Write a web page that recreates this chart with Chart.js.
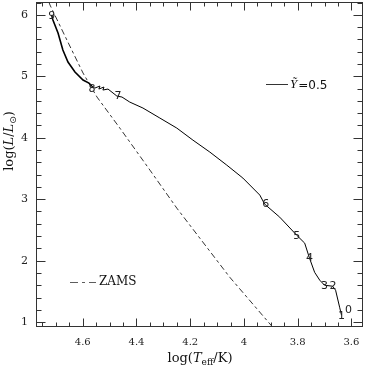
<!DOCTYPE html>
<html><head><meta charset="utf-8">
<script src="https://cdn.jsdelivr.net/npm/chart.js@4/dist/chart.umd.min.js"></script>
<style>html,body{margin:0;padding:0;background:#fff}canvas{display:block}</style>
</head><body>
<canvas id="c" width="367" height="367"></canvas>
<script>
// ---- data ----
const trackLogT = [4.716,4.711,4.692,4.674,4.655,4.629,4.599,4.577,4.566,4.555,4.536,4.540,4.521,4.525,4.506,4.473,4.454,4.425,4.376,4.313,4.250,4.190,4.127,4.064,4.004,3.941,3.923,3.867,3.804,3.774,3.756,3.737,3.718,3.700,3.670,3.659,3.644,3.637];
const trackLogL = [6.000,5.917,5.705,5.428,5.233,5.070,4.940,4.891,4.840,4.809,4.842,4.793,4.826,4.777,4.793,4.679,4.663,4.581,4.484,4.321,4.158,3.962,3.767,3.555,3.344,3.067,2.920,2.708,2.415,2.285,2.040,1.810,1.682,1.600,1.584,1.519,1.242,1.112];
const stageNames = ['0','1','2','3','4','5','6','7','8','9'];
const stageLogT  = [3.611,3.637,3.669,3.700,3.756,3.804,3.919,4.469,4.566,4.715];
const stageLogL  = [1.194,1.096,1.585,1.585,2.040,2.399,2.920,4.679,4.793,5.982];
const zamsLogT = [4.726,4.722,4.659,4.599,4.547,4.462,4.350,4.250,4.053,3.893,3.880];
const zamsLogL = [6.210,6.161,5.591,5.054,4.663,4.158,3.474,2.855,1.731,0.917,0.880];
const xTickValues = [4.6,4.4,4.2,4.0,3.8,3.6];
const xTickLabels = ['4.6','4.4','4.2','4','3.8','3.6'];
const yTickValues = [1,2,3,4,5,6];
const yTickLabels = ['1','2','3','4','5','6'];
const X_MIN = 3.557, X_MAX = 4.774, Y_MIN = 0.92, Y_MAX = 6.21;

const trackPts = trackLogT.map((t,i)=>({x:t,y:trackLogL[i]}));
const zamsPts = zamsLogT.map((t,i)=>({x:t,y:zamsLogL[i]}));

const frameTicks = {
  id:'frameTicks',
  afterDatasetsDraw(chart){
    const ctx = chart.ctx, a = chart.chartArea, xs = chart.scales.x, ys = chart.scales.y;
    ctx.save();
    // stage labels
    ctx.fillStyle = '#222';
    ctx.font = '11px "DejaVu Sans"';
    ctx.textAlign = 'center'; ctx.textBaseline = 'middle';
    stageNames.forEach((n,i)=>{
      ctx.fillText(n, xs.getPixelForValue(stageLogT[i]), ys.getPixelForValue(stageLogL[i]));
    });
    // frame
    const L = Math.round(a.left)+0.5, R = Math.round(a.right)-0.5, T = Math.round(a.top)+0.5, B = Math.round(a.bottom)-0.5;
    ctx.strokeStyle = '#333'; ctx.lineWidth = 1;
    ctx.strokeRect(L, T, R-L, B-T);
    ctx.beginPath();
    for (let k=0; k<=23; k++){
      const v = 3.6 + k*0.05;
      const major = Math.abs(((v-3.6)/0.2) - Math.round((v-3.6)/0.2)) < 1e-6;
      const len = major ? 8 : 4;
      const px = Math.round(xs.getPixelForValue(v))+0.5;
      if (px < L || px > R) continue;
      ctx.moveTo(px,B); ctx.lineTo(px,B-len);
      ctx.moveTo(px,T); ctx.lineTo(px,T+len);
    }
    for (let k=0; k<=26; k++){
      const v = 1 + k*0.2;
      const major = Math.abs(v - Math.round(v)) < 1e-6;
      const len = major ? 9 : 5;
      const py = Math.round(ys.getPixelForValue(v))+0.5;
      if (py < T || py > B) continue;
      ctx.moveTo(L,py); ctx.lineTo(L+len,py);
      ctx.moveTo(R,py); ctx.lineTo(R-len,py);
    }
    ctx.stroke();
    // legends
    ctx.strokeStyle = '#000'; ctx.lineWidth = 0.8;
    ctx.beginPath(); ctx.moveTo(266,84.5); ctx.lineTo(288,84.5); ctx.stroke();
    ctx.textAlign = 'left'; ctx.textBaseline = 'middle'; ctx.fillStyle = '#111';
    ctx.font = 'italic 13px "Liberation Serif"';
    ctx.fillText('Ỹ', 290, 85);
    let w = ctx.measureText('Ỹ').width;
    ctx.font = '12px "DejaVu Sans"';
    ctx.fillText('=0.5', 290+w+1, 86);
    ctx.strokeStyle = '#333'; ctx.setLineDash([8,4,3,4]);
    ctx.beginPath(); ctx.moveTo(70,282.5); ctx.lineTo(96,282.5); ctx.stroke();
    ctx.setLineDash([]);
    ctx.font = '12px "DejaVu Serif"';
    ctx.fillText('ZAMS', 99, 282);
    // axis titles
    ctx.textBaseline = 'alphabetic';
    const parts = [
      ['log(', '13px "DejaVu Serif"', 0],
      ['T', 'italic 13px "DejaVu Serif"', 0],
      ['eff', '9px "DejaVu Serif"', 3],
      ['/K)', '13px "DejaVu Serif"', 0]
    ];
    let tw = 0;
    parts.forEach(p=>{ctx.font=p[1]; tw += ctx.measureText(p[0]).width;});
    let x0 = 200 - tw/2;
    parts.forEach(p=>{ctx.font=p[1]; ctx.fillText(p[0], x0, 362+p[2]); x0 += ctx.measureText(p[0]).width;});
    ctx.save();
    ctx.translate(13, 141); ctx.rotate(-Math.PI/2);
    const yparts = [
      ['log(', '13px "DejaVu Serif"', 0],
      ['L', 'italic 13px "DejaVu Serif"', 0],
      ['/', '13px "DejaVu Serif"', 0],
      ['L', 'italic 13px "DejaVu Serif"', 0],
      ['⊙', '9px "DejaVu Sans"', 3],
      [')', '13px "DejaVu Serif"', 0]
    ];
    tw = 0;
    yparts.forEach(p=>{ctx.font=p[1]; tw += ctx.measureText(p[0]).width;});
    x0 = -tw/2;
    yparts.forEach(p=>{ctx.font=p[1]; ctx.fillText(p[0], x0, p[2]); x0 += ctx.measureText(p[0]).width;});
    ctx.restore();
    ctx.restore();
  }
};

new Chart(document.getElementById('c'), {
  type:'scatter',
  data:{datasets:[
    {data:trackPts, showLine:true, borderColor:'#000', borderWidth:1, pointRadius:0, tension:0,
     segment:{borderWidth: c => c.p0DataIndex < 8 ? 1.6 : 1}},
    {data:zamsPts, showLine:true, borderColor:'#333', borderWidth:1, borderDash:[6,3,3,3], pointRadius:0}
  ]},
  options:{
    responsive:false, animation:false,
    layout:{padding:{left:0,top:2,right:4,bottom:0}},
    plugins:{legend:{display:false}, tooltip:{enabled:false}},
    scales:{
      x:{type:'linear', reverse:true, min:X_MIN, max:X_MAX,
         grid:{display:false, drawTicks:false}, border:{display:false},
         afterBuildTicks: s => { s.ticks = xTickValues.map(v=>({value:v})); },
         afterFit: s => { s.height = 40; s.paddingLeft = 0; s.paddingRight = 0; },
         ticks:{padding:9, color:'#222', font:{family:'DejaVu Serif', size:10},
                callback:(v)=> xTickLabels[xTickValues.findIndex(t=>Math.abs(t-v)<1e-9)]}},
      y:{type:'linear', min:Y_MIN, max:Y_MAX,
         grid:{display:false, drawTicks:false}, border:{display:false},
         afterBuildTicks: s => { s.ticks = yTickValues.map(v=>({value:v})); },
         afterFit: s => { s.width = 36; s.paddingTop = 0; s.paddingBottom = 0; },
         ticks:{padding:8, color:'#222', font:{family:'DejaVu Serif', size:11},
                callback:(v)=> yTickLabels[yTickValues.findIndex(t=>Math.abs(t-v)<1e-9)]}}
    }
  },
  plugins:[frameTicks]
});
</script>
</body></html>
